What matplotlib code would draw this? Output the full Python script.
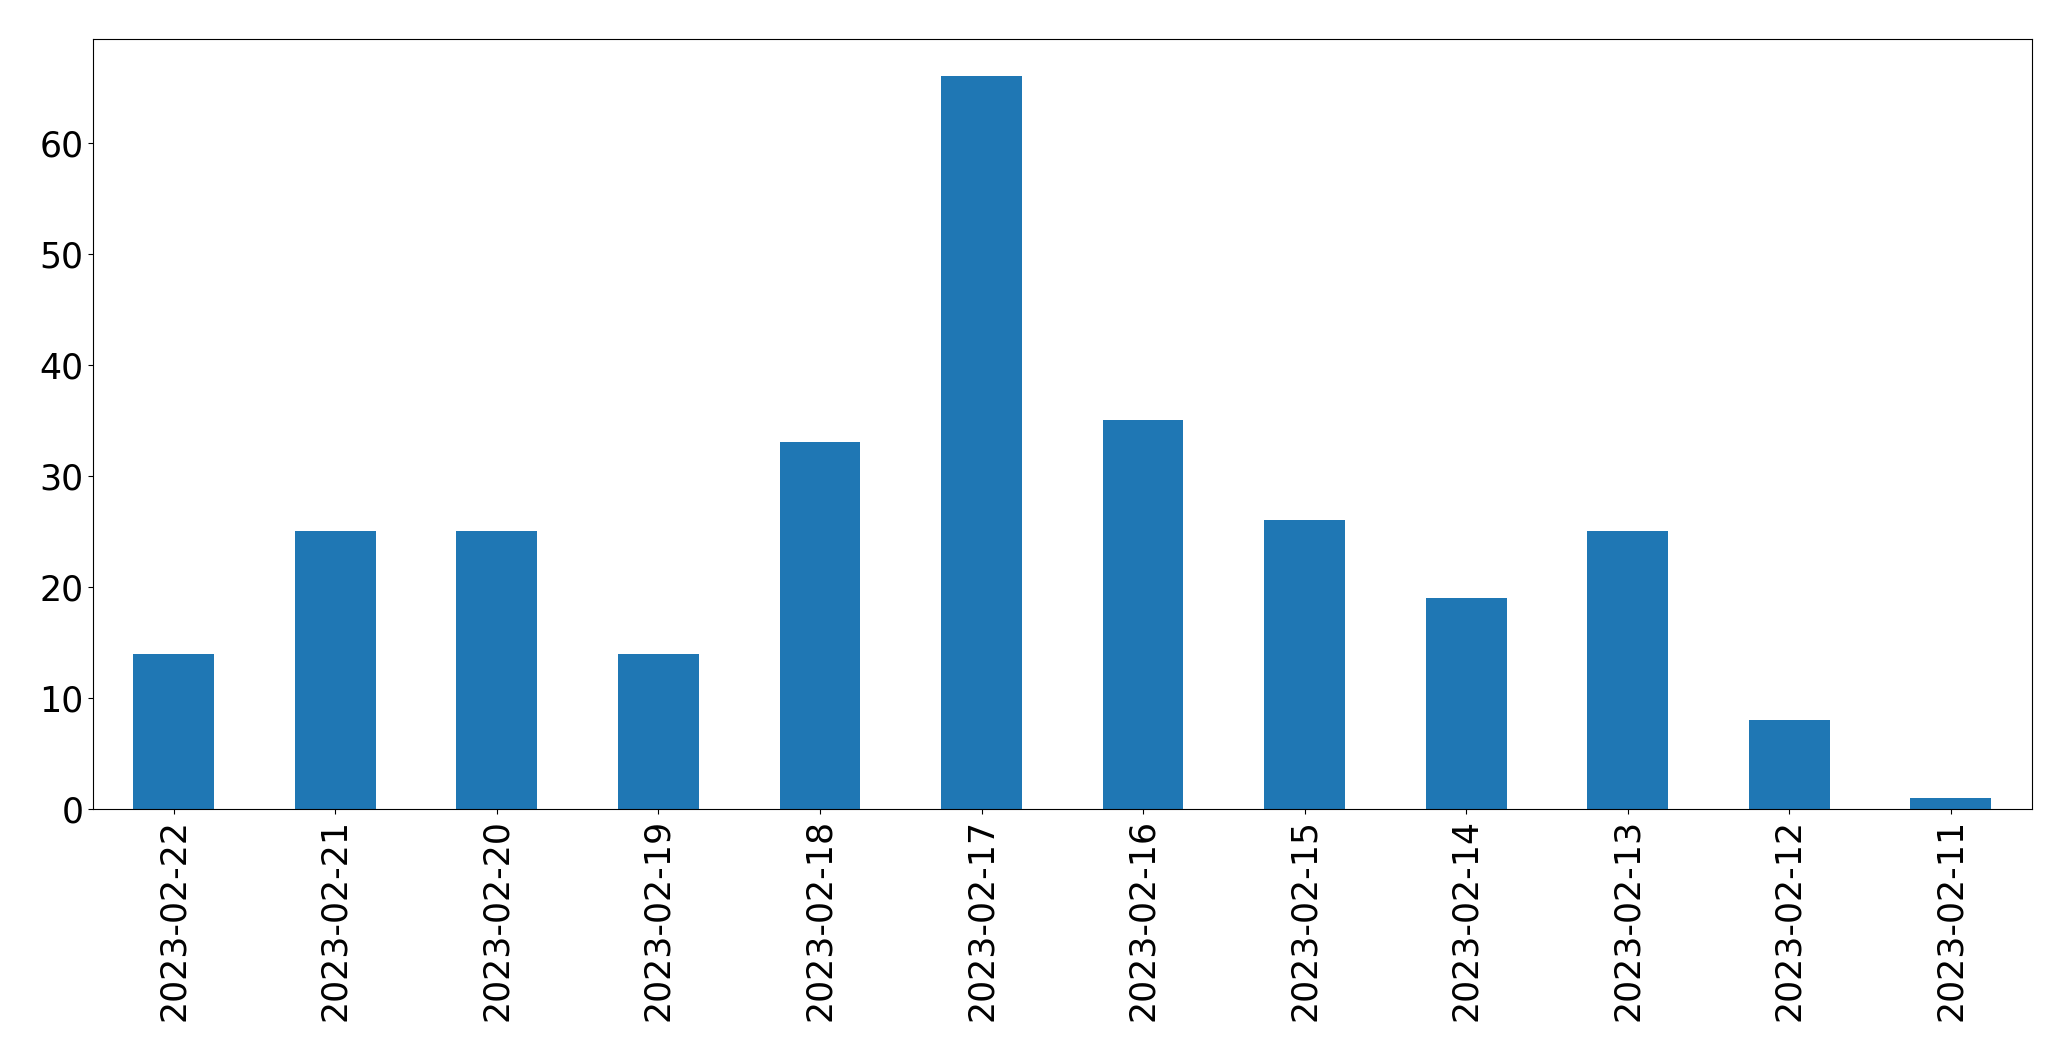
import matplotlib
matplotlib.use("Agg")
import matplotlib.pyplot as plt
import pandas as pd

dates = ["2023-02-22", "2023-02-21", "2023-02-20", "2023-02-19", "2023-02-18",
         "2023-02-17", "2023-02-16", "2023-02-15", "2023-02-14", "2023-02-13",
         "2023-02-12", "2023-02-11"]
counts = [14, 25, 25, 14, 33, 66, 35, 26, 19, 25, 8, 1]

s = pd.Series(counts, index=dates)

fig, ax = plt.subplots(figsize=(20.71, 10.61), dpi=100)
s.plot(kind="bar", ax=ax, color="#1f77b4")
ax.tick_params(axis="both", labelsize=25)
fig.subplots_adjust(left=0.0449, right=0.981, top=0.963, bottom=0.2375)
fig.savefig("out.png", dpi=100)
